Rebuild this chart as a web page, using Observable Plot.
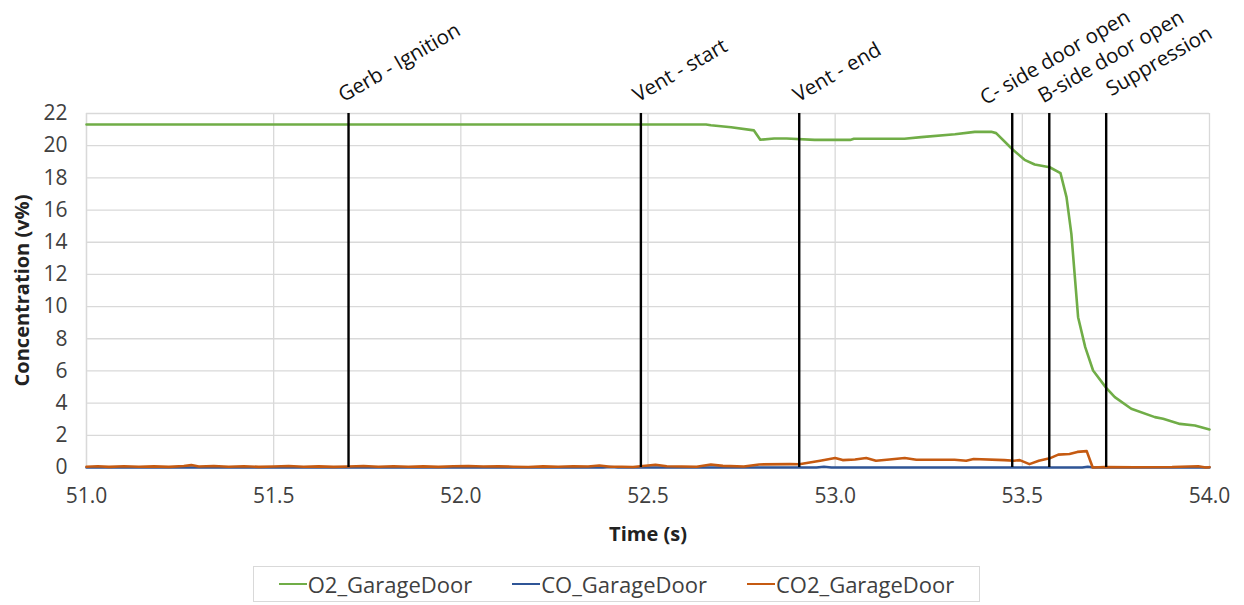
<!DOCTYPE html>
<html>
<head>
<meta charset="utf-8">
<script src="https://cdn.jsdelivr.net/npm/d3@7"></script>
<script src="https://cdn.jsdelivr.net/npm/@observablehq/plot@0.6"></script>
<style>
  html, body { margin: 0; padding: 0; background: #fff; }
  body { width: 1244px; height: 605px; position: relative; overflow: hidden; font-family: "Open Sans", sans-serif; }
  #chart svg { overflow: visible; }
  #legend { position: absolute; left: 253px; top: 566px; width: 727px; height: 36px; box-sizing: border-box;
            border: 1px solid #d9d9d9; display: flex; align-items: center; justify-content: center; gap: 40px;
            font-size: 22px; color: #404040; }
  .item { display: flex; align-items: center; }
  .sw { width: 28px; height: 2.5px; margin-right: 1px; }
</style>
</head>
<body>
<div id="chart"></div>
<div id="legend"></div>
<script>
// ---- data ----
const seriesNames = ["O2_GarageDoor", "CO_GarageDoor", "CO2_GarageDoor"];
const seriesColors = ["#70AD47", "#2F5597", "#C55A11"];

const o2 = [
  [51.0, 21.32], [52.655, 21.32], [52.668, 21.27], [52.722, 21.15], [52.783, 20.95], [52.80, 20.37],
  [52.837, 20.45], [52.87, 20.45], [52.945, 20.36], [53.04, 20.36], [53.05, 20.43], [53.185, 20.43],
  [53.23, 20.53], [53.32, 20.71], [53.373, 20.86], [53.417, 20.86], [53.43, 20.78], [53.472, 19.81],
  [53.506, 19.12], [53.533, 18.83], [53.573, 18.66], [53.602, 18.29], [53.618, 16.8], [53.631, 14.52],
  [53.649, 9.34], [53.668, 7.48], [53.689, 6.03], [53.724, 4.95], [53.747, 4.37], [53.791, 3.65],
  [53.854, 3.13], [53.876, 3.03], [53.921, 2.71], [53.961, 2.61], [54.0, 2.36]
];

const co = [
  [51.0, 0], [52.38, 0], [52.40, 0.03], [52.42, 0], [52.95, 0], [52.97, 0.05], [52.99, 0],
  [53.66, 0], [53.675, 0.05], [53.69, 0], [54.0, 0]
];

const co2 = [
  [51.00, 0.05], [51.03, 0.08], [51.06, 0.04], [51.10, 0.08], [51.14, 0.05], [51.18, 0.07], [51.22, 0.04],
  [51.26, 0.09], [51.28, 0.15], [51.30, 0.06], [51.34, 0.09], [51.38, 0.05], [51.42, 0.08], [51.46, 0.04],
  [51.50, 0.06], [51.54, 0.09], [51.58, 0.05], [51.62, 0.07], [51.66, 0.04], [51.70, 0.06], [51.74, 0.09],
  [51.78, 0.05], [51.82, 0.08], [51.86, 0.05], [51.90, 0.07], [51.94, 0.04], [51.98, 0.08], [52.02, 0.09],
  [52.06, 0.06], [52.10, 0.08], [52.14, 0.05], [52.18, 0.03], [52.22, 0.07], [52.26, 0.05], [52.30, 0.08],
  [52.34, 0.06], [52.37, 0.12], [52.40, 0.05], [52.43, 0.05], [52.46, 0.03], [52.52, 0.17], [52.55, 0.08],
  [52.63, 0.05], [52.668, 0.19], [52.70, 0.10], [52.756, 0.06], [52.797, 0.19], [52.879, 0.21], [52.904, 0.20],
  [52.96, 0.42], [53.0, 0.59], [53.02, 0.46], [53.053, 0.50], [53.083, 0.59], [53.109, 0.42], [53.145, 0.50],
  [53.186, 0.59], [53.217, 0.48], [53.319, 0.48], [53.35, 0.42], [53.37, 0.53], [53.452, 0.46], [53.478, 0.42],
  [53.493, 0.46], [53.519, 0.21], [53.544, 0.42], [53.573, 0.57], [53.596, 0.80], [53.626, 0.84], [53.647, 0.97],
  [53.672, 1.02], [53.688, 0.0], [53.72, 0.03], [53.80, 0.02], [53.90, 0.03], [53.97, 0.08], [53.99, 0.0], [54.0, 0.02]
];

const eventNames = ["Gerb - Ignition", "Vent - start", "Vent - end", "C- side door open", "B-side door open", "Suppression"];
const eventTimes = [51.70, 52.481, 52.904, 53.473, 53.572, 53.724];

const xTicks = [51.0, 51.5, 52.0, 52.5, 53.0, 53.5, 54.0];
const yTicks = [0, 2, 4, 6, 8, 10, 12, 14, 16, 18, 20, 22];

// label placement offsets (manual text boxes in original), kept separate from data
const labelDx = [-5, -3, -1, -27, -6, 5];
const labelDy = [-11, -11, -11, -8, -10, -17];

const events = eventNames.map((name, i) => ({name, t: eventTimes[i], dx: labelDx[i], dy: labelDy[i]}));

const px = d => d[0], py = d => d[1];

const chart = Plot.plot({
  width: 1244,
  height: 560,
  marginLeft: 86,
  marginRight: 35,
  marginTop: 113,
  marginBottom: 93,
  style: {fontFamily: "'Open Sans', sans-serif", fontSize: "21px", color: "#404040", background: "white", overflow: "visible"},
  x: {domain: [51, 54]},
  y: {domain: [0, 22]},
  marks: [
    Plot.gridX(xTicks, {stroke: "#d9d9d9", strokeOpacity: 1, strokeWidth: 1.3}),
    Plot.gridY(yTicks, {stroke: "#d9d9d9", strokeOpacity: 1, strokeWidth: 1.3}),
    Plot.ruleX([51], {stroke: "#d9d9d9", strokeWidth: 1.3}),
    Plot.axisX(xTicks, {tickSize: 0, tickPadding: 21, tickFormat: d3.format(".1f"), label: null, fill: "#404040"}),
    Plot.axisY(yTicks, {tickSize: 0, tickPadding: 19, label: null, fill: "#404040"}),
    Plot.line(o2, {x: px, y: py, stroke: seriesColors[0], strokeWidth: 2.6}),
    Plot.line(co, {x: px, y: py, stroke: seriesColors[1], strokeWidth: 2.6}),
    Plot.line(co2, {x: px, y: py, stroke: seriesColors[2], strokeWidth: 2.6}),
    Plot.ruleX(eventTimes, {stroke: "black", strokeWidth: 2.4}),
    ...events.map(e => Plot.text([e], {x: "t", frameAnchor: "top", text: "name", rotate: -30,
      textAnchor: "start", lineAnchor: "bottom", dx: e.dx, dy: e.dy, fill: "#111", fontSize: 20.5})),
    Plot.text(["Concentration (v%)"], {frameAnchor: "left", dx: -64, rotate: -90, fontWeight: "bold",
      textAnchor: "middle", fontSize: 20, fill: "#222"}),
    Plot.text(["Time (s)"], {frameAnchor: "bottom", dy: 73, fontWeight: "bold", fontSize: 20, fill: "#222"})
  ]
});
document.getElementById("chart").appendChild(chart);

const legend = d3.select("#legend");
seriesNames.forEach((name, i) => {
  const item = legend.append("div").attr("class", "item");
  item.append("div").attr("class", "sw").style("background", seriesColors[i]);
  item.append("span").text(name);
});
</script>
</body>
</html>
